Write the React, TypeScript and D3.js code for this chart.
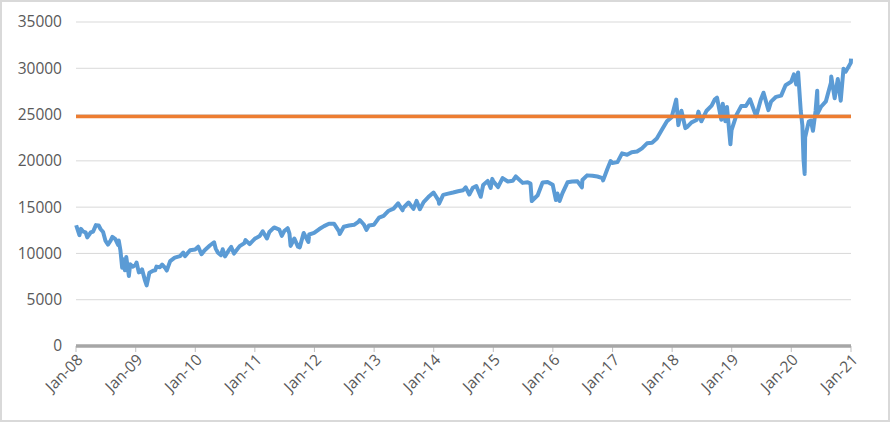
import React, { useRef, useEffect } from 'react';
import * as d3 from 'd3';

// index closes (date, value)
const dates: string[] = [
  '2008-01-02', '2008-01-22', '2008-01-31', '2008-02-15', '2008-02-29', '2008-03-10', '2008-03-31', '2008-04-15',
  '2008-05-02', '2008-05-19', '2008-05-30', '2008-06-15', '2008-06-30', '2008-07-15', '2008-07-31', '2008-08-11',
  '2008-08-29', '2008-09-15', '2008-09-19', '2008-09-29', '2008-10-10', '2008-10-13', '2008-10-27', '2008-11-04',
  '2008-11-20', '2008-11-28', '2008-12-15', '2008-12-31',
  '2009-01-06', '2009-01-20', '2009-01-30', '2009-02-09', '2009-02-27', '2009-03-09', '2009-03-26', '2009-04-17',
  '2009-04-30', '2009-05-08', '2009-05-29', '2009-06-12', '2009-06-30', '2009-07-10', '2009-07-31', '2009-08-28',
  '2009-09-30', '2009-10-19', '2009-10-30', '2009-11-30', '2009-12-31',
  '2010-01-19', '2010-02-08', '2010-02-26', '2010-03-31', '2010-04-26', '2010-05-06', '2010-05-20', '2010-06-07',
  '2010-06-18', '2010-07-02', '2010-07-30', '2010-08-09', '2010-08-26', '2010-09-30', '2010-10-29', '2010-11-05',
  '2010-11-30', '2010-12-31',
  '2011-01-31', '2011-02-18', '2011-03-16', '2011-03-31', '2011-04-29', '2011-05-31', '2011-06-15', '2011-06-30',
  '2011-07-21', '2011-08-01', '2011-08-08', '2011-08-31', '2011-09-22', '2011-10-03', '2011-10-27', '2011-11-25',
  '2011-11-30', '2011-12-30',
  '2012-01-31', '2012-02-29', '2012-03-30', '2012-04-30', '2012-05-31', '2012-06-04', '2012-06-29', '2012-07-31',
  '2012-08-31', '2012-09-28', '2012-10-05', '2012-10-31', '2012-11-15', '2012-11-30', '2012-12-31',
  '2013-01-31', '2013-02-28', '2013-03-28', '2013-04-30', '2013-05-28', '2013-06-24', '2013-06-28', '2013-07-31',
  '2013-08-30', '2013-09-18', '2013-10-08', '2013-10-31', '2013-11-29', '2013-12-31',
  '2014-01-31', '2014-02-03', '2014-02-28', '2014-03-31', '2014-04-30', '2014-05-30', '2014-06-30', '2014-07-16',
  '2014-08-07', '2014-08-29', '2014-09-19', '2014-10-16', '2014-10-31', '2014-11-28', '2014-12-16', '2014-12-26',
  '2014-12-31',
  '2015-01-30', '2015-02-27', '2015-03-31', '2015-04-30', '2015-05-19', '2015-06-30', '2015-07-31', '2015-08-17',
  '2015-08-25', '2015-09-30', '2015-10-30', '2015-11-30', '2015-12-31',
  '2016-01-20', '2016-01-29', '2016-02-11', '2016-02-29', '2016-03-31', '2016-04-29', '2016-05-31', '2016-06-27',
  '2016-06-30', '2016-07-29', '2016-08-31', '2016-09-30', '2016-10-31', '2016-11-04', '2016-11-30', '2016-12-20',
  '2016-12-30',
  '2017-01-31', '2017-02-28', '2017-03-31', '2017-04-28', '2017-05-31', '2017-06-30', '2017-07-31', '2017-08-31',
  '2017-09-29', '2017-10-31', '2017-11-30', '2017-12-29',
  '2018-01-26', '2018-02-08', '2018-02-27', '2018-03-23', '2018-04-02', '2018-04-30', '2018-05-31', '2018-06-11',
  '2018-06-29', '2018-07-31', '2018-08-31', '2018-09-20', '2018-10-03', '2018-10-29', '2018-11-07', '2018-11-23',
  '2018-12-03', '2018-12-24', '2018-12-31',
  '2019-01-31', '2019-02-28', '2019-03-29', '2019-04-23', '2019-05-31', '2019-06-28', '2019-07-15', '2019-08-14',
  '2019-08-30', '2019-09-30', '2019-10-31', '2019-11-27', '2019-12-31',
  '2020-01-17', '2020-01-31', '2020-02-12', '2020-02-28', '2020-03-09', '2020-03-16', '2020-03-23', '2020-03-26',
  '2020-04-17', '2020-04-30', '2020-05-13', '2020-05-29', '2020-06-08', '2020-06-11', '2020-06-30', '2020-07-31',
  '2020-08-31', '2020-09-02', '2020-09-23', '2020-10-12', '2020-10-30', '2020-11-16', '2020-11-30', '2020-12-31',
  '2021-01-01',
];

const values: number[] = [
  13044, 11971, 12650, 12348, 12266, 11740, 12262, 12362,
  13058, 13028, 12638, 12307, 11350, 10962, 11378, 11782,
  11543, 10917, 11388, 10365, 8451, 9387, 8175, 9625,
  7552, 8829, 8564, 8776,
  9015, 7949, 8000, 8270, 7062, 6547, 7924, 8131,
  8168, 8575, 8500, 8799, 8447, 8146, 9171, 9544,
  9712, 10092, 9712, 10344, 10428,
  10725, 9908, 10325, 10857, 11205, 10520, 10068, 9816,
  10450, 9686, 10466, 10698, 9985, 10788, 11118, 11444,
  11006, 11578,
  11892, 12391, 11613, 12320, 12811, 12570, 11897, 12414,
  12724, 12132, 10810, 11614, 10733, 10655, 12209, 11231,
  12046, 12218,
  12633, 12952, 13212, 13214, 12393, 12101, 12880, 13009,
  13091, 13437, 13610, 13096, 12543, 13025, 13104,
  13861, 14054, 14579, 14840, 15409, 14660, 14910, 15500,
  14810, 15677, 14776, 15546, 16086, 16577,
  15699, 15373, 16322, 16458, 16581, 16717, 16827, 17138,
  16368, 17098, 17280, 16117, 17391, 17828, 17068, 18053,
  17823,
  17165, 18133, 17776, 17841, 18312, 17620, 17690, 17546,
  15666, 16285, 17664, 17720, 17425,
  15766, 16466, 15660, 16517, 17685, 17774, 17787, 17140,
  17930, 18432, 18400, 18308, 18142, 17888, 19124, 19974,
  19763,
  19864, 20812, 20663, 20941, 21009, 21350, 21891, 21948,
  22405, 23377, 24272, 24719,
  26617, 23860, 25410, 23533, 23644, 24163, 24416, 25322,
  24271, 25415, 25965, 26657, 26828, 24443, 26180, 24286,
  25826, 21792, 23327,
  24999, 25916, 25929, 26656, 24815, 26600, 27359, 25479,
  26403, 26917, 27046, 28164, 28538,
  29348, 28256, 29551, 25409, 23851, 20189, 18592, 22552,
  24242, 24346, 23248, 25383, 27572, 25128, 25813, 26428,
  28430, 29100, 26763, 28837, 26502, 29950, 29639, 30606,
  31050,
];

const refLevel = 24800;
const yTicks = [0, 5000, 10000, 15000, 20000, 25000, 30000, 35000];
const xTickYears = d3.range(2008, 2022);

const App: React.FC = () => {
  const ref = useRef<SVGSVGElement>(null);

  useEffect(() => {
    const svg = d3.select(ref.current);
    svg.selectAll('*').remove();
    const width = 890;
    const height = 422;
    const margin = { top: 22, right: 39, bottom: 76, left: 76 };

    svg.attr('width', width).attr('height', height);

    svg.append('rect')
      .attr('x', 1).attr('y', 1)
      .attr('width', width - 2).attr('height', height - 2)
      .attr('fill', '#fff')
      .attr('stroke', '#d9d9d9')
      .attr('stroke-width', 2);

    const parse = d3.timeParse('%Y-%m-%d');
    const points = dates.map((d, i) => ({ date: parse(d)!, value: values[i] }));

    const x = d3.scaleTime()
      .domain([new Date(2008, 0, 1), new Date(2021, 0, 1)])
      .range([margin.left, width - margin.right]);

    const y = d3.scaleLinear()
      .domain([0, 35000])
      .range([height - margin.bottom, margin.top]);

    const font = "'Open Sans', 'Noto Sans', sans-serif";

    // gridlines
    svg.append('g')
      .selectAll('line')
      .data(yTicks.filter(t => t > 0))
      .join('line')
      .attr('x1', margin.left)
      .attr('x2', width - margin.right)
      .attr('y1', d => y(d))
      .attr('y2', d => y(d))
      .attr('stroke', '#d9d9d9')
      .attr('stroke-width', 1);

    // y labels
    svg.append('g')
      .selectAll('text')
      .data(yTicks)
      .join('text')
      .attr('x', 62)
      .attr('y', d => y(d))
      .attr('dy', '0.35em')
      .attr('text-anchor', 'end')
      .attr('fill', '#595959')
      .attr('font-family', font)
      .attr('font-size', 15.5)
      .text(d => String(d));

    // x ticks
    const xTicks = xTickYears.map(yr => new Date(yr, 0, 1));
    svg.append('g')
      .selectAll('line')
      .data(xTicks)
      .join('line')
      .attr('x1', d => x(d))
      .attr('x2', d => x(d))
      .attr('y1', y(0))
      .attr('y2', y(0) + 6)
      .attr('stroke', '#bfbfbf')
      .attr('stroke-width', 1);

    svg.append('g')
      .selectAll('text')
      .data(xTicks)
      .join('text')
      .attr('transform', d => `translate(${x(d) + 4},${y(0) + 11}) rotate(-45)`)
      .attr('text-anchor', 'end')
      .attr('dy', '0.35em')
      .attr('fill', '#595959')
      .attr('font-family', font)
      .attr('font-size', 15.5)
      .text(d => d3.timeFormat('Jan-%y')(d));

    // zero axis
    svg.append('line')
      .attr('x1', margin.left)
      .attr('x2', width - margin.right)
      .attr('y1', y(0))
      .attr('y2', y(0))
      .attr('stroke', '#a6a6a6')
      .attr('stroke-width', 3.5);

    // series
    svg.append('path')
      .datum(points)
      .attr('fill', 'none')
      .attr('stroke', '#5b9bd5')
      .attr('stroke-width', 4)
      .attr('stroke-linejoin', 'round')
      .attr('d', d3.line<{ date: Date; value: number }>()
        .x(d => x(d.date))
        .y(d => y(d.value)));

    // reference level
    svg.append('line')
      .attr('x1', margin.left)
      .attr('x2', width - margin.right)
      .attr('y1', y(refLevel))
      .attr('y2', y(refLevel))
      .attr('stroke', '#ed7d31')
      .attr('stroke-width', 3.5);
  }, []);

  return <svg ref={ref} style={{ position: 'absolute', left: 0, top: 0 }}></svg>;
};

export default App;
